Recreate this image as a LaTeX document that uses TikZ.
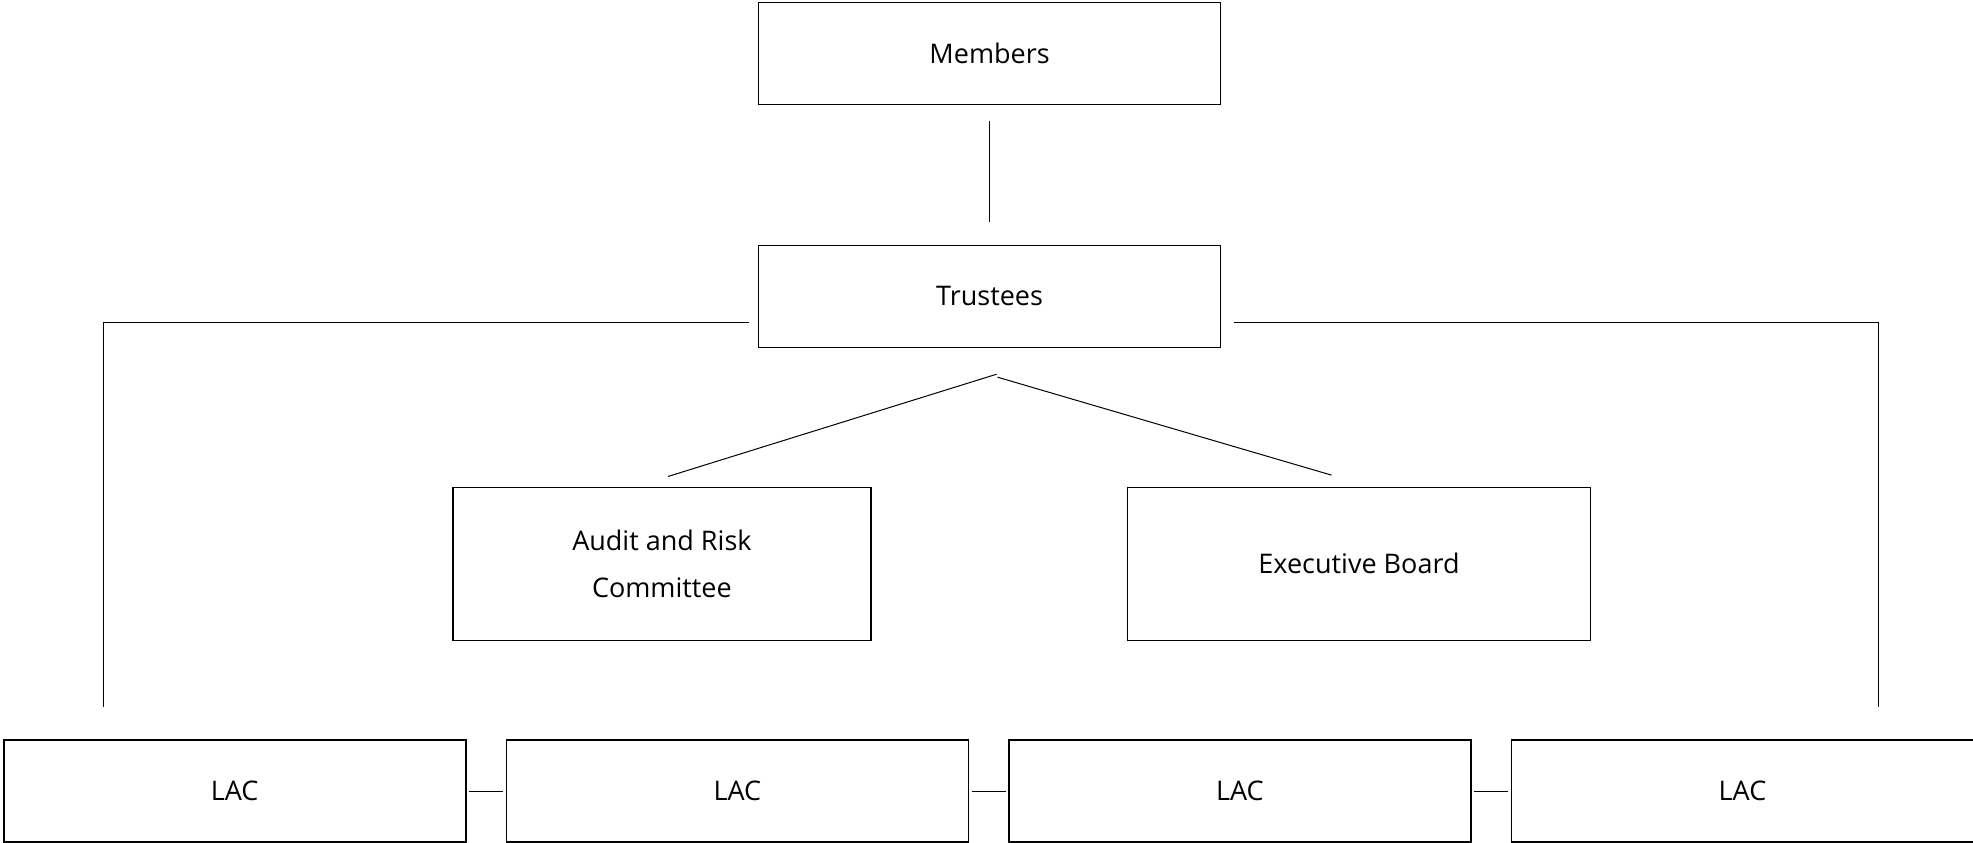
\documentclass[tikz,border=0pt]{standalone}
\usepackage{fontspec}
\setmainfont{Open Sans}
\usetikzlibrary{positioning}

\begin{document}
\begin{tikzpicture}[x=0.5pt, y=-0.5pt, semithick, node distance=251.3pt]
        \tikzstyle{every node}=[font=\fontsize{13.5}{23.3}\selectfont]
        \tikzstyle{unit}=[draw=black, line width=0.8pt, fill=white, text=black, minimum width=231pt, minimum height=51pt, inner sep=0pt]
        \tikzstyle{board}=[unit, minimum height=76.5pt, align=center]
        \tikzstyle{link}=[draw=black, line width=0.5pt]
        \useasboundingbox (0,0) rectangle (1973,842);
        \node[unit]     (Members)   at (989.6,53.5)     {Members};
        \node[unit]     (Trustees)  at (989.6,296.4)    {Trustees};
        \node[board, minimum width=209pt] (Audit) at (661.9,563.8) {Audit and Risk\\Committee};
        \node[board, minimum width=231.5pt] (Exec) at (1359,563.8) {Executive Board};
        \node[unit]     (LAC_1)     at (234.7,791)      {LAC};
        \node[unit]     (LAC_2)[right of=LAC_1]         {LAC};
        \node[unit]     (LAC_3)[right of=LAC_2]         {LAC};
        \node[unit]     (LAC_4)[right of=LAC_3]         {LAC};
        \coordinate     (L_corner)  at (103.5,322);
        \coordinate     (L_end)     at (103.5,707);
        \coordinate     (R_corner)  at (1878.6,322);
        \coordinate     (R_end)     at (1878.6,707);
        \path[link]
        (Members) edge [shorten <=8pt, shorten >=11.3pt] (Trustees)
        ([xshift=3.5pt, yshift=-13pt]Trustees.south) edge ([xshift=3pt, yshift=5pt]Audit.north)
        ([xshift=4pt, yshift=-14.5pt]Trustees.south) edge ([xshift=-13.8pt, yshift=5.7pt]Exec.north)
        (LAC_1) edge [shorten <=1.2pt, shorten >=1.2pt] (LAC_2)
        (LAC_2) edge [shorten <=1.2pt, shorten >=1.2pt] (LAC_3)
        (LAC_3) edge [shorten <=1.2pt, shorten >=1.2pt] (LAC_4);
        \draw[link] ([xshift=-4.35pt, yshift=-12.8pt]Trustees.west) -- (L_corner) -- (L_end);
        \draw[link] ([xshift=6.2pt, yshift=-12.8pt]Trustees.east) -- (R_corner) -- (R_end);
\end{tikzpicture}
\end{document}
